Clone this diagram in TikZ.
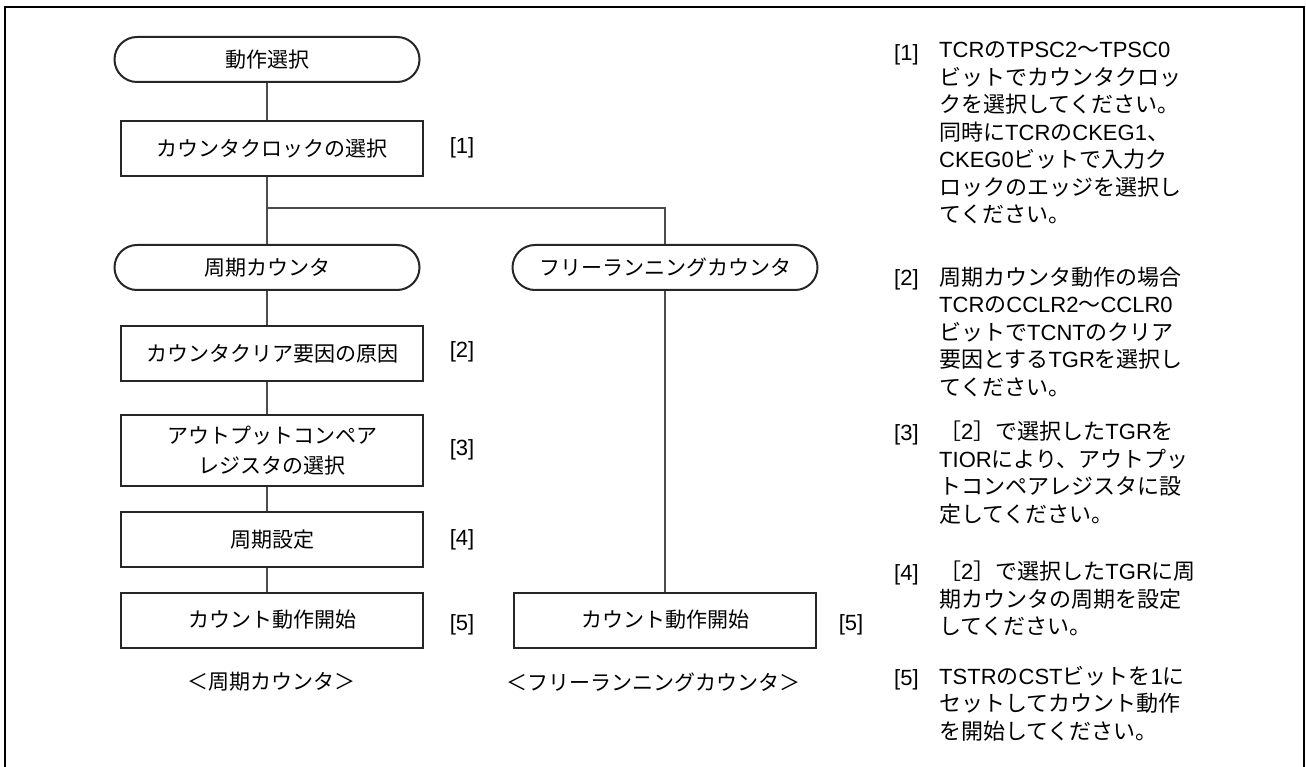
\documentclass[tikz,border=0pt]{standalone}
\usepackage{fontspec}
\setmainfont{Noto Sans CJK JP}
\newfontfamily\latinfont{Liberation Sans}
\newcommand\asc[1]{{\latinfont #1}}
\usetikzlibrary{positioning}

\begin{document}
\begin{tikzpicture}[
    x=1pt, y=-1pt,
    frame/.style={line width=2.8pt, black},
    term/.style={draw=black!85, line width=2pt, rounded corners=22.5pt, minimum width=305pt, minimum height=45pt, inner sep=0pt, font=\fontsize{21}{26}\selectfont},
    proc/.style={draw=black!85, line width=2pt, minimum width=302pt, minimum height=55pt, inner sep=0pt, align=center, font=\fontsize{21}{30}\selectfont},
    link/.style={draw=black!70, line width=1.2pt},
    tag/.style={inner sep=0pt, font=\fontsize{22}{26}\latinfont},
    caption/.style={inner sep=0pt, font=\fontsize{21}{26}\selectfont},
    note/.style={anchor=north west, align=left, inner sep=0pt, font=\fontsize{22}{27.5}\selectfont, execute at begin node=\strut}
]
\useasboundingbox (0,0) rectangle (1306,767);
\draw[frame] (5,768) -- (5,7) -- (1304,7) -- (1304,768);

% periodic counter column
\node[term] (start) at (267,59.5) {動作選択};
\node[proc] (clk) at (272,148.5) {カウンタクロックの選択};
\coordinate (split) at (267,208);
\node[term] (per) at (267,267.5) {周期カウンタ};
\node[proc] (clr) at (272,353.5) {カウンタクリア要因の原因};
\node[proc, minimum height=71pt] (ocr) at (272,450.5) {アウトプットコンペア\\レジスタの選択};
\node[proc] (prd) at (272,539.5) {周期設定};
\node[proc] (run) at (272,620) {カウント動作開始};
\node[caption] (percap) at (271,682) {＜周期カウンタ＞};

\node[tag] (t1) at (462,148) {[1]};
\node[tag] (t2) at (462,352) {[2]};
\node[tag] (t3) at (462,450) {[3]};
\node[tag] (t4) at (462,540) {[4]};
\node[tag] (t5) at (462,625) {[5]};

% free-running column
\node[term] (free) at (665,267.5) {フリーランニングカウンタ};
\node[proc] (frun) at (665,620) {カウント動作開始};
\node[tag] (ft5) at (851,625) {[5]};
\node[caption] (freecap) at (653,682) {＜フリーランニングカウンタ＞};

\draw[link] (start.south) -- (start.south |- clk.north);
\draw[link] (start.south |- clk.south) -- (per.north);
\draw[link] (split) -| (free.north);
\draw[link] (per.south) -- (per.south |- clr.north);
\draw[link] (per.south |- clr.south) -- (per.south |- ocr.north);
\draw[link] (per.south |- ocr.south) -- (per.south |- prd.north);
\draw[link] (per.south |- prd.south) -- (per.south |- run.north);
\draw[link] (free.south) -- (free.south |- frun.north);

% notes (first baselines at 61, 286, 440, 580, 685)
\node[tag, anchor=base west] (n1) at (894,61) {[1]};
\node[note] (d1) at (939,41.75) {\asc{TCR}の\asc{TPSC2}～\asc{TPSC0}\\ビットでカウンタクロッ\\クを選択してください。\\同時に\asc{TCR}の\asc{CKEG1}、\\\asc{CKEG0}ビットで入力ク\\ロックのエッジを選択し\\てください。};
\node[tag, anchor=base west] (n2) at (894,286) {[2]};
\node[note] (d2) at (939,266.75) {周期カウンタ動作の場合\\\asc{TCR}の\asc{CCLR2}～\asc{CCLR0}\\ビットで\asc{TCNT}のクリア\\要因とする\asc{TGR}を選択し\\てください。};
\node[tag, anchor=base west] (n3) at (894,440) {[3]};
\node[note] (d3) at (939,420.75) {［\asc{2}］で選択した\asc{TGR}を\\\asc{TIOR}により、アウトプッ\\トコンペアレジスタに設\\定してください。};
\node[tag, anchor=base west] (n4) at (894,580) {[4]};
\node[note] (d4) at (939,560.75) {［\asc{2}］で選択した\asc{TGR}に周\\期カウンタの周期を設定\\してください。};
\node[tag, anchor=base west] (n5) at (894,685) {[5]};
\node[note] (d5) at (939,665.75) {\asc{TSTR}の\asc{CST}ビットを\asc{1}に\\セットしてカウント動作\\を開始してください。};
\end{tikzpicture}
\end{document}
